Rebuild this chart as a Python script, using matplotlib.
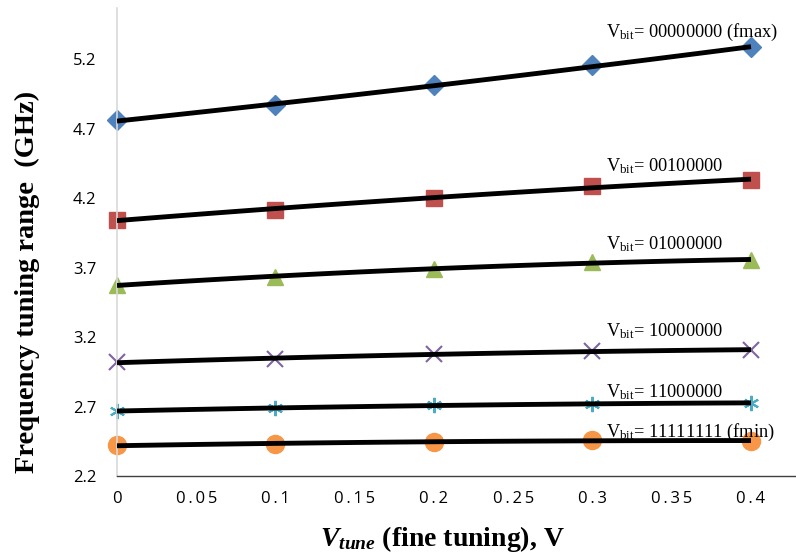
import numpy as np
import matplotlib
matplotlib.use("Agg")
import matplotlib.pyplot as plt

vtune = [0.0, 0.1, 0.2, 0.3, 0.4]
f_00000000 = [4.759, 4.866, 5.010, 5.154, 5.284]
f_00100000 = [4.042, 4.116, 4.200, 4.286, 4.330]
f_01000000 = [3.574, 3.632, 3.689, 3.740, 3.754]
f_10000000 = [3.018, 3.042, 3.075, 3.101, 3.106]
f_11000000 = [2.668, 2.687, 2.711, 2.716, 2.727]
f_11111111 = [2.421, 2.428, 2.447, 2.459, 2.452]
labels = ["V$_{\\mathrm{bit}}$= 00000000 (fmax)",
          "V$_{\\mathrm{bit}}$= 00100000",
          "V$_{\\mathrm{bit}}$= 01000000",
          "V$_{\\mathrm{bit}}$= 10000000",
          "V$_{\\mathrm{bit}}$= 11000000",
          "V$_{\\mathrm{bit}}$= 11111111 (fmin)"]
label_y = [5.39, 4.43, 3.87, 3.243, 2.80, 2.517]
x_ticks = [0, 0.05, 0.1, 0.15, 0.2, 0.25, 0.3, 0.35, 0.4]
y_ticks = [2.2, 2.7, 3.2, 3.7, 4.2, 4.7, 5.2]

plt.rcParams['mathtext.fontset'] = 'custom'
plt.rcParams['mathtext.rm'] = 'Liberation Serif'
plt.rcParams['mathtext.it'] = 'Liberation Serif:italic'
plt.rcParams['mathtext.bf'] = 'Liberation Serif:bold:italic'

series = [f_00000000, f_00100000, f_01000000, f_10000000, f_11000000, f_11111111]
colors = ['#4F81BD', '#C0504D', '#9BBB59', '#8064A2', '#4BACC6', '#F79646']
markers = ['D', 's', '^', 'x', (6, 2, 0), 'o']
msizes = [10, 11, 12, 11, 11, 13]
mews = [1, 1, 1, 1.5, 1.5, 1]

fig = plt.figure(figsize=(7.96, 5.55), dpi=100)
ax = fig.add_axes([117/796, 1 - 476/555, 1 - 117/796, (476 - 8)/555])

x = np.array(vtune)
xf = np.linspace(0, 0.4, 100)
for ys, c, m, ms, mw, lab, ly in zip(series, colors, markers, msizes, mews, labels, label_y):
    ax.plot(x, ys, linestyle='none', marker=m, color=c, markersize=ms,
            markeredgewidth=mw, zorder=2, clip_on=False)
    p = np.polyfit(x, ys, 2)
    ax.plot(xf, np.polyval(p, xf), color='black', lw=3.5, zorder=3,
            solid_capstyle='butt')
    ax.text(0.3085, ly, lab, family='Liberation Serif', fontsize=13.2,
            va='center', ha='left', zorder=4)

ax.set_xlim(0, 0.4284)
ax.set_ylim(2.2, 5.567)
ax.set_xticks(x_ticks)
ax.set_xticklabels(["\u2009".join(f"{t:g}") for t in x_ticks],
                   family=['Open Sans', 'DejaVu Sans'], fontsize=12)
ax.set_yticks(y_ticks)
ax.set_yticklabels([f"{t:.1f}" for t in y_ticks], family='Open Sans', fontsize=12)
ax.tick_params(length=0)
ax.tick_params(axis='y', pad=15)
ax.tick_params(axis='x', pad=11)
for s in ['top', 'right']:
    ax.spines[s].set_visible(False)
ax.spines['left'].set_color('#d9d9d9')
ax.spines['left'].set_linewidth(1.2)
ax.spines['bottom'].set_color('#404040')
ax.spines['bottom'].set_linewidth(1.0)

ax.set_ylabel("Frequency tuning range  (GHz)", family='Liberation Serif',
              fontweight='bold', fontsize=20.5)
ax.yaxis.set_label_coords(-0.113, 0.4145)
ax.set_xlabel("$\\mathbf{V_{tune}}$ (fine tuning), V", family='Liberation Serif',
              fontweight='bold', fontsize=20)
ax.xaxis.set_label_coords(0.479, -0.102)

fig.savefig("out.png", dpi=100)
